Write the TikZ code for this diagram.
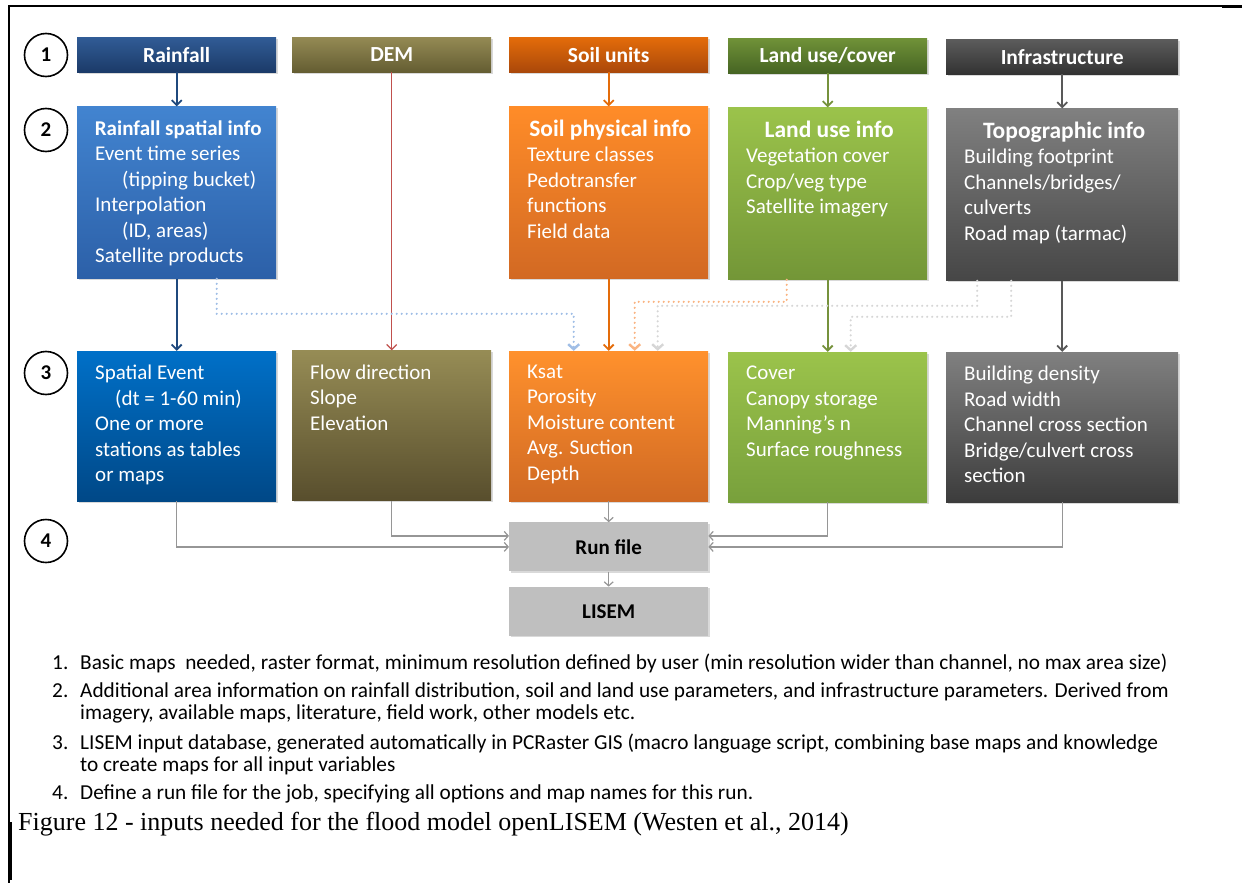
\documentclass[tikz,border=0pt]{standalone}
\usepackage{fontspec}
\setmainfont{Carlito}
\newfontfamily\capfont{Liberation Serif}
\usetikzlibrary{positioning, arrows.meta, shadows}

% header colours
\definecolor{rainTop}{RGB}{49,92,150}
\definecolor{rainBot}{RGB}{27,58,104}
\definecolor{demTop}{RGB}{148,138,84}
\definecolor{demBot}{RGB}{100,93,50}
\definecolor{soilTop}{RGB}{228,108,10}
\definecolor{soilBot}{RGB}{170,72,10}
\definecolor{landTop}{RGB}{112,146,56}
\definecolor{landBot}{RGB}{70,100,35}
\definecolor{infraTop}{RGB}{92,92,92}
\definecolor{infraBot}{RGB}{50,50,50}
% info colours
\definecolor{rainInfoTop}{RGB}{66,132,208}
\definecolor{rainInfoBot}{RGB}{44,96,168}
\definecolor{soilInfoTop}{RGB}{255,140,40}
\definecolor{soilInfoBot}{RGB}{210,105,35}
\definecolor{landInfoTop}{RGB}{155,195,75}
\definecolor{landInfoBot}{RGB}{115,150,55}
\definecolor{topoTop}{RGB}{128,128,128}
\definecolor{topoBot}{RGB}{70,70,70}
% data colours
\definecolor{eventTop}{RGB}{0,112,200}
\definecolor{eventBot}{RGB}{0,72,135}
\definecolor{flowTop}{RGB}{150,140,85}
\definecolor{flowBot}{RGB}{88,78,45}
\definecolor{ksatTop}{RGB}{255,145,45}
\definecolor{ksatBot}{RGB}{208,105,35}
\definecolor{coverTop}{RGB}{155,195,75}
\definecolor{coverBot}{RGB}{120,160,60}
\definecolor{buildTop}{RGB}{128,128,128}
\definecolor{buildBot}{RGB}{60,60,60}
% lines
\definecolor{runGrey}{RGB}{191,191,191}
\definecolor{lineGrey}{RGB}{150,150,150}
\definecolor{rainLine}{RGB}{31,73,125}
\definecolor{demLine}{RGB}{192,80,77}
\definecolor{soilLine}{RGB}{228,108,10}
\definecolor{landLine}{RGB}{118,146,60}
\definecolor{infraLine}{RGB}{89,89,89}
\definecolor{dotBlue}{RGB}{160,190,230}
\definecolor{dotOrange}{RGB}{250,180,130}
\definecolor{dotGrey}{RGB}{214,214,214}

\newcommand{\boxtitle}[2][166pt]{\makebox[#1]{\bfseries #2}}
\newcommand{\bigtitle}[2][166pt]{\makebox[#1]{\fontsize{23.5}{25.5}\selectfont\bfseries #2}}

\begin{document}
\begin{tikzpicture}[x=1pt, y=-1pt,
        shade/.style={drop shadow={shadow xshift=1.5pt, shadow yshift=-1.5pt, opacity=.3}},
        hdr/.style={
            rectangle,
            minimum width=199pt,
            minimum height=35pt,
            inner sep=0pt,
            text=white,
            font=\fontsize{21.5}{25}\selectfont\bfseries,
            shade
        },
        info/.style={rectangle, minimum width=199pt, minimum height=172pt, inner sep=0pt, shade},
        data/.style={rectangle, minimum width=199pt, minimum height=150pt, inner sep=0pt, shade},
        body/.style={anchor=north west, inner sep=0pt, text=white, align=left,
            font=\fontsize{21}{25.5}\selectfont},
        runbox/.style={rectangle, fill=runGrey, minimum width=199pt, minimum height=49pt,
            inner sep=0pt, font=\fontsize{21}{25}\selectfont\bfseries, shade},
        num/.style={circle, draw=black, line width=1.6pt, minimum size=43pt, inner sep=0pt,
            font=\fontsize{21}{25}\selectfont\bfseries},
        arrow/.style={-{Straight Barb[length=5pt, width=10pt]}, line width=1.8pt},
        dotarrow/.style={-{Straight Barb[length=5pt, width=11pt]}, line width=2.4pt,
            dash pattern=on 0pt off 5pt, line cap=round},
        grey/.style={-{Straight Barb[length=4pt, width=9pt]}, line width=1.2pt, draw=lineGrey},
        note/.style={anchor=base west, inner sep=0pt, font=\fontsize{21.3}{24}\selectfont}
    ]
    \useasboundingbox (0,0) rectangle (1242,883);

    % frame
    \draw[line width=1.5pt] (8,6) -- (1242,6);
    \draw[line width=3pt] (1222,7) -- (1242,7);
    \draw[line width=1.5pt] (9,6) -- (9,883);
    \draw[line width=2.5pt] (10.5,822) -- (10.5,880);

    % step numbers
    \node[num] (n1) at (46,55) {1};
    \node[num] (n2) at (46,130) {2};
    \node[num] (n3) at (46,373) {3};
    \node[num] (n4) at (46,541) {4};

    % Row 1: basic maps
    \node[hdr, anchor=north west, top color=rainTop, bottom color=rainBot] (rain) at (77,37) {Rainfall};
    \node[hdr, anchor=north west, top color=demTop, bottom color=demBot] (dem) at (292,37) {DEM};
    \node[hdr, anchor=north west, top color=soilTop, bottom color=soilBot] (soil) at (509,37) {Soil units};
    \node[hdr, anchor=north west, top color=landTop, bottom color=landBot] (land) at (728,38) {Land use/cover};
    \node[hdr, anchor=north west, minimum width=232pt, top color=infraTop, bottom color=infraBot] (infra) at (946,39) {Infrastructure};

    % Row 2: additional information
    \node[info, below=34pt of rain, top color=rainInfoTop, bottom color=rainInfoBot] (rainInfo) {};
    \node[info, below=34pt of soil, top color=soilInfoTop, bottom color=soilInfoBot] (soilInfo) {};
    \node[info, below=34pt of land, top color=landInfoTop, bottom color=landInfoBot] (landInfo) {};
    \node[info, below=34pt of infra, minimum width=232pt, top color=topoTop, bottom color=topoBot] (topoInfo) {};

    \node[body] (rainTxt) at ([shift={(18,14)}]rainInfo.north west)
        {\boxtitle{Rainfall spatial info}\\Event time series\\\hspace*{27pt}(tipping bucket)\\Interpolation\\\hspace*{27pt}(ID, areas)\\Satellite products};
    \node[body] (soilTxt) at ([shift={(18,13)}]soilInfo.north west)
        {\bigtitle{Soil physical info}\\Texture classes\\Pedotransfer\\functions\\Field data};
    \node[body] (landTxt) at ([shift={(18,13)}]landInfo.north west)
        {\bigtitle{Land use info}\\Vegetation cover\\Crop/veg type\\Satellite imagery};
    \node[body] (topoTxt) at ([shift={(18,13)}]topoInfo.north west)
        {\bigtitle[200pt]{Topographic info}\\Building footprint\\Channels/bridges/\\culverts\\Road map (tarmac)};

    % Row 3: LISEM input database
    \node[data, below=72pt of rainInfo, top color=eventTop, bottom color=eventBot] (event) {};
    \node[data, below=278pt of dem, top color=flowTop, bottom color=flowBot] (flow) {};
    \node[data, below=72pt of soilInfo, top color=ksatTop, bottom color=ksatBot] (ksat) {};
    \node[data, below=72pt of landInfo, top color=coverTop, bottom color=coverBot] (cover) {};
    \node[data, below=71pt of topoInfo, minimum width=232pt, top color=buildTop, bottom color=buildBot] (build) {};

    \node[body] (eventTxt) at ([shift={(18,14)}]event.north west)
        {Spatial Event\\\hspace*{20pt}(dt = 1-60 min)\\One or more\\stations as tables\\or maps};
    \node[body] (flowTxt) at ([shift={(18,14)}]flow.north west)
        {Flow direction\\Slope\\Elevation};
    \node[body] (ksatTxt) at ([shift={(18,14)}]ksat.north west)
        {Ksat\\Porosity\\Moisture content\\Avg. Suction\\Depth};
    \node[body] (coverTxt) at ([shift={(18,14)}]cover.north west)
        {Cover\\Canopy storage\\Manning’s n\\Surface roughness};
    \node[body] (buildTxt) at ([shift={(18,14)}]build.north west)
        {Building density\\Road width\\Channel cross section\\Bridge/culvert cross\\section};

    % Row 4: run file
    \node[runbox, below=21pt of ksat] (run) {Run file};
    \node[runbox, below=15pt of run] (lisem) {LISEM};

    % Arrows
    \draw[arrow, rainLine] (rain) -- (rainInfo);
    \draw[arrow, soilLine] (soil) -- (soilInfo);
    \draw[arrow, landLine] (land) -- (landInfo);
    \draw[arrow, infraLine] (infra) -- (topoInfo);
    \draw[arrow, demLine, line width=1.3pt] (dem) -- (flow);
    \draw[arrow, rainLine] (rainInfo) -- (event);
    \draw[arrow, soilLine] (soilInfo) -- (ksat);
    \draw[arrow, landLine] (landInfo) -- (cover);
    \draw[arrow, infraLine] (topoInfo) -- (build);

    \draw[dotarrow, dotBlue] ([xshift=40pt]rainInfo.south) -- ++(0,35) -| ([xshift=-35pt]ksat.north);
    \draw[dotarrow, dotGrey] ([xshift=-85pt]topoInfo.south) -- ++(0,25) -| ([xshift=49pt]ksat.north);
    \draw[dotarrow, dotOrange] ([xshift=-41pt]landInfo.south) -- ++(0,22) -| ([xshift=26pt]ksat.north);
    \draw[dotarrow, dotGrey] ([xshift=-51pt]topoInfo.south) -- ++(0,36) -| ([xshift=23pt]cover.north);

    \draw[grey] (event.south) |- (run.west);
    \draw[grey] (flow.south) |- ([yshift=11pt]run.west);
    \draw[grey] (ksat) -- (run);
    \draw[grey] (cover.south) |- ([yshift=11pt]run.east);
    \draw[grey] (build.south) |- (run.east);
    \draw[grey] (run) -- (lisem);

    % Notes
    \node[note] (note1) at (52,669) {\makebox[28pt][l]{1.}Basic maps\ \ needed, raster format, minimum resolution defined by user (min resolution wider than channel, no max area size)};
    \node[note] (note2) at (52,697) {\makebox[28pt][l]{2.}Additional area information on rainfall distribution, soil and land use parameters, and infrastructure parameters. Derived from};
    \node[note] (note2b) at (80,719) {imagery, available maps, literature, field work, other models etc.};
    \node[note] (note3) at (52,749) {\makebox[28pt][l]{3.}LISEM input database, generated automatically in PCRaster GIS (macro language script, combining base maps and knowledge};
    \node[note] (note3b) at (80,771) {to create maps for all input variables};
    \node[note] (note4) at (52,799) {\makebox[28pt][l]{4.}Define a run file for the job, specifying all options and map names for this run.};
    \node[note, font=\capfont\fontsize{26}{30}\selectfont] (caption) at (18,830) {Figure 12 - inputs needed for the flood model openLISEM (Westen et al., 2014)};
\end{tikzpicture}
\end{document}
